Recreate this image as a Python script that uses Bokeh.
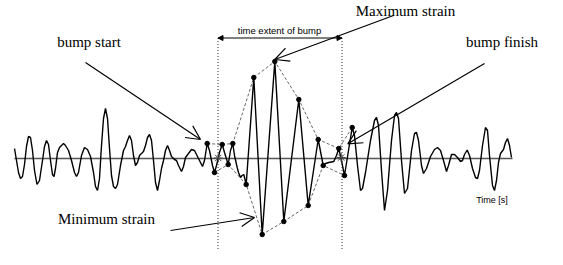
from bokeh.plotting import figure
from bokeh.models import Range1d, Arrow, OpenHead, NormalHead
from bokeh.core.properties import value
from bokeh.embed import file_html
from bokeh.resources import INLINE

# ---- data (time in plot units, strain relative to baseline) ----
time_s = [14, 16, 18, 20, 22, 24, 26, 28, 30, 32, 34, 36.5, 39, 42, 44, 46, 48, 50, 52, 53.5,
          55, 57, 59, 61, 63, 65, 68, 71, 74, 76, 78, 81, 84, 87, 90, 93, 95, 97, 99, 101,
          103, 105, 107, 109, 111, 113, 115, 117, 120, 123, 125, 127, 129, 131, 133, 135, 137, 139, 141, 143,
          145, 147, 149, 151, 153, 155, 157, 159, 161, 163, 165, 167, 169, 171, 174, 176, 178, 181, 183, 185,
          188, 191, 194, 197, 199, 202, 204, 206.7, 209, 212, 214, 216, 219, 221.7, 224, 227.7, 230, 232.3, 234, 236.7,
          238, 240, 241.5, 243.3, 245.7, 253.3, 261.7, 274.3, 283.3, 298.3, 307.7, 317.7, 322.7, 325, 328.3, 333.3, 336, 338.3, 341, 344,
          348, 351.7, 354, 357, 360, 362, 365, 370, 374, 376, 378, 381, 384, 387, 391, 394, 396, 398, 401, 404,
          407, 411, 414, 416, 418, 421, 423, 426, 430, 434, 437, 440, 443, 446, 448, 451, 454, 457, 460, 462,
          464, 466.7, 469, 472, 475, 477, 479, 482, 485, 487, 489, 492, 494, 496, 498, 500, 503, 505, 507, 509, 511]
strain = [10, -2, -14, -20, -18, -6, 12, 22, 21, 8, -12, -26, -22, -2, 12, 18, 14, -2, -16, -18,
          -10, 6, 11, 13, 15, 13, 8, -2, -14, -18, -14, 3, 11, 9, 2, -14, -28, -32, -20, 13,
          40, 50, 40, 10, -17, -28, -30, -26, -7, 8, 12, 18, 23, 18, 3, -7, -4, 3, 5, 7,
          13, 21, 24, 18, -2, -24, -32, -22, -10, -2, 8, 13, 8, 2, -1, -2, -7, -13, -8, 1,
          5, 9, 8, 2, -2, -8, -2, 15, 8, -7, -14, -7, 6, 14, 6, -6, 8, 15, 3, -9,
          -14, -19, -17, -16, -26, 81, -76, 97, -63, 59, -47, 19, -7, -5, -4, -3, 3, 10, -2, -17,
          8, 31, 23, -7, -32, -30, -14, 18, 38, 41, 33, -12, -52, -32, 18, 43, 46, 40, -2, -35,
          -30, 8, 25, 26, 18, -7, -15, -10, 2, 9, 11, 8, -2, -13, -7, 4, 4, 1, -3, -2,
          4, 8.5, 3, -10, -19, -20, -12, 13, 31, 28, 3, -27, -32, -22, -4, 5, 9, 16, 20, 13, 1]

# local extrema picked inside the bump
peak_t = [206.7, 214, 221.7, 227.7, 232.3, 245.7, 253.3, 261.7, 274.3, 283.3, 298.3, 307.7, 317.7, 322.7, 338.3, 344, 351.7]
peak_s = [15, -14, 14, -6, 15, -26, 81, -76, 97, -63, 59, -47, 19, -7, 10, -17, 31]

upper_t = [206.7, 221.7, 232.3, 253.3, 274.3, 298.3, 317.7, 338.3, 351.7]
upper_s = [15, 14, 15, 81, 97, 59, 19, 10, 31]
lower_t = [214, 227.7, 245.7, 261.7, 283.3, 307.7, 322.7, 344]
lower_s = [-14, -6, -26, -76, -63, -47, -7, -17]

bump_start_t = 217.5
bump_end_t = 341.5
star_t = [217.7, 340.7]
star_s = [0.5, 1]

t_min, t_max = 14, 512

p = figure(width=547, height=249, output_backend="svg", toolbar_location=None,
           x_axis_type=None, y_axis_type=None,
           x_range=Range1d(0, 547), y_range=Range1d(-91, 158), min_border=0)
p.outline_line_color = None
p.grid.visible = False

# baseline (time axis)
p.line([t_min, t_max], [0, 0], line_color="#555555", line_width=1.5)

# bump extent dotted lines
for t in (bump_start_t, bump_end_t):
    p.line([t, t], [120.5, -110], line_color="#333333", line_width=1, line_dash="1 2")

# envelopes
p.line(upper_t, upper_s, line_color="#555555", line_width=0.9, line_dash="3 2")
p.line(lower_t, lower_s, line_color="#555555", line_width=0.9, line_dash="3 2")

# signal
p.line(time_s, strain, line_color="black", line_width=1.4)
p.scatter(peak_t, peak_s, size=4.5, color="black")
p.scatter(star_t, star_s, marker="asterisk", size=9, line_color="#444444", line_width=1)

# time extent arrow
p.add_layout(Arrow(x_start=bump_start_t, y_start=120.5, x_end=bump_end_t, y_end=120.5,
                   line_width=1, line_color="black",
                   start=NormalHead(size=5, fill_color="black", line_color="black"),
                   end=NormalHead(size=5, fill_color="black", line_color="black")))

def pointer(x0, y0, x1, y1):
    p.add_layout(Arrow(x_start=x0, y_start=y0, x_end=x1, y_end=y1, line_width=1.2, line_color="black",
                       end=OpenHead(size=14, line_width=1.2, line_color="black")))

pointer(85, 96, 200, 19)       # bump start
pointer(393, 143, 274.3, 99)   # maximum strain
pointer(484, 95, 347.3, 14.7)  # bump finish
pointer(170, -72, 254, -59)    # minimum strain

serif = value("Liberation Serif")
sans = value("Liberation Sans")
p.text(x=[88.5], y=[116.5], text=["bump start"], text_font=serif, text_font_size="15px",
       text_align="center", text_baseline="alphabetic", text_color="black")
p.text(x=[405], y=[147.5], text=["Maximum strain"], text_font=serif, text_font_size="15px",
       text_align="center", text_baseline="alphabetic", text_color="black")
p.text(x=[501.5], y=[116.5], text=["bump finish"], text_font=serif, text_font_size="15px",
       text_align="center", text_baseline="alphabetic", text_color="black")
p.text(x=[106], y=[-60], text=["Minimum strain"], text_font=serif, text_font_size="15px",
       text_align="center", text_baseline="alphabetic", text_color="black")
p.text(x=[279], y=[128.3], text=["time extent of bump"], text_font=sans, text_font_size="9.5px",
       text_align="center", text_baseline="alphabetic", text_color="black")
p.text(x=[491.5], y=[-41.7], text=["Time [s]"], text_font=sans, text_font_size="9px",
       text_align="center", text_baseline="alphabetic", text_color="black")

open("out.html", "w").write(file_html(p, INLINE))
